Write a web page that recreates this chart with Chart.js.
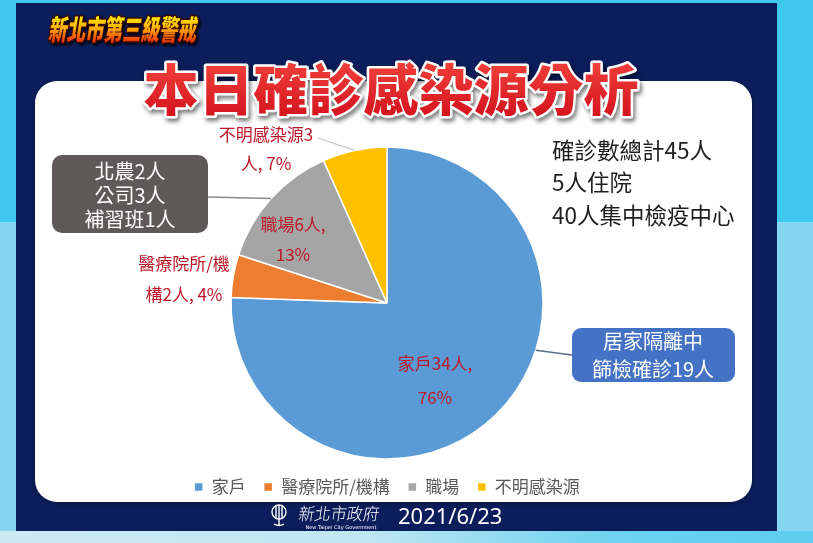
<!DOCTYPE html>
<html><head><meta charset="utf-8">
<script src="https://cdn.jsdelivr.net/npm/chart.js@4.4.1/dist/chart.umd.min.js"></script>
<style>
html,body{margin:0;padding:0;background:#3ec8ee;overflow:hidden;width:813px;height:543px}
#c{position:absolute;left:0;top:0}
</style>
</head><body>
<canvas id="c" width="813" height="543"></canvas>
<script>
// ---------- data ----------
const categories = ['家戶', '醫療院所/機構', '職場', '不明感染源'];
const cases = [34, 2, 6, 3];
const sliceColors = ['#5B9BD5', '#ED7D31', '#A5A5A5', '#FFC000'];
const chartTitle = '本日確診感染源分析';
const subTitle = '新北市第三級警戒';
const summaryLines = ['確診數總計45人', '5人住院', '40人集中檢疫中心'];
const workplaceNote = ['北農2人', '公司3人', '補習班1人'];
const homeNote = ['居家隔離中', '篩檢確診19人'];
const dateText = '2021/6/23';
const orgName = '新北市政府';
const orgNameEn = 'New Taipei City Government';

// ---------- layout / style ----------
const CJK = '"Noto Sans CJK TC","Noto Sans CJK SC","Noto Sans",sans-serif';
const labelBreak = [6, 6, 5, 6];                  // where Excel wrapped each data label
const labelPos = [[48, 78, 34], [-203, -24, 31], [-94, -63, 30], [-121, -154, 29]]; // dx,dy from centre, line gap

function rr(ctx, x, y, w, h, r) {
  ctx.beginPath();
  ctx.moveTo(x + r, y);
  ctx.arcTo(x + w, y, x + w, y + h, r);
  ctx.arcTo(x + w, y + h, x, y + h, r);
  ctx.arcTo(x, y + h, x, y, r);
  ctx.arcTo(x, y, x + w, y, r);
  ctx.closePath();
}

const backdrop = {
  id: 'backdrop',
  beforeDraw(chart) {
    const ctx = chart.ctx;
    ctx.save();
    // outer cyan
    ctx.fillStyle = '#3ec8ee';
    ctx.fillRect(0, 0, 813, 543);
    ctx.fillStyle = '#86d6f1';
    ctx.fillRect(0, 222, 16, 321);
    ctx.fillRect(777, 222, 36, 321);
    let g = ctx.createLinearGradient(0, 0, 813, 0);
    g.addColorStop(0, '#cdeaf4'); g.addColorStop(0.45, '#bfe6f3'); g.addColorStop(0.75, '#6fd2f0'); g.addColorStop(1, '#5ccdf0');
    ctx.fillStyle = g;
    ctx.fillRect(0, 531, 813, 12);
    // navy panel
    ctx.fillStyle = '#0b1e5b';
    ctx.fillRect(16, 3, 761, 528);
    // white card
    ctx.shadowColor = 'rgba(0,0,0,0.35)'; ctx.shadowBlur = 4; ctx.shadowOffsetY = 1;
    ctx.fillStyle = '#ffffff';
    rr(ctx, 35, 81, 717, 421, 22);
    ctx.fill();
    ctx.shadowColor = 'transparent';

    // subtitle (italic, condensed, gradient)
    ctx.save();
    ctx.translate(48, 40);
    ctx.transform(0.66, 0, -0.16, 1, 0, 0);
    ctx.font = '900 28px ' + CJK;
    ctx.textBaseline = 'alphabetic';
    ctx.lineJoin = 'round';
    ctx.shadowColor = 'rgba(0,0,0,0.8)'; ctx.shadowOffsetX = 2; ctx.shadowOffsetY = 2; ctx.shadowBlur = 2;
    ctx.strokeStyle = '#3a0a00'; ctx.lineWidth = 3;
    ctx.strokeText(subTitle, 0, 0);
    ctx.shadowColor = 'transparent';
    let sg = ctx.createLinearGradient(0, -26, 0, 2);
    sg.addColorStop(0, '#fff700'); sg.addColorStop(0.5, '#ffb000'); sg.addColorStop(1, '#e8300a');
    ctx.fillStyle = sg;
    ctx.fillText(subTitle, 0, 0);
    ctx.restore();

    // main title
    ctx.save();
    ctx.font = '900 55px ' + CJK;
    ctx.textAlign = 'center';
    ctx.textBaseline = 'middle';
    ctx.lineJoin = 'round';
    ctx.shadowColor = 'rgba(0,0,0,0.55)'; ctx.shadowOffsetX = 2; ctx.shadowOffsetY = 3; ctx.shadowBlur = 4;
    ctx.strokeStyle = '#ffffff'; ctx.lineWidth = 5;
    ctx.strokeText(chartTitle, 391, 89);
    ctx.shadowColor = 'transparent';
    let tg = ctx.createLinearGradient(0, 62, 0, 116);
    tg.addColorStop(0, '#f0403a'); tg.addColorStop(1, '#d4141e');
    ctx.fillStyle = tg;
    ctx.fillText(chartTitle, 391, 89);
    ctx.restore();

    // footer emblem + org + date
    ctx.save();
    ctx.strokeStyle = '#ffffff'; ctx.fillStyle = '#ffffff'; ctx.lineWidth = 1.4;
    ctx.beginPath(); ctx.arc(279, 512, 7, 0, Math.PI * 2); ctx.stroke();
    ctx.beginPath();
    ctx.moveTo(276, 506); ctx.lineTo(276, 518);
    ctx.moveTo(279, 505); ctx.lineTo(279, 519);
    ctx.moveTo(282, 506); ctx.lineTo(282, 518);
    ctx.moveTo(279, 519); ctx.lineTo(279, 526);
    ctx.moveTo(274, 524); ctx.quadraticCurveTo(279, 527, 284, 524);
    ctx.stroke();
    ctx.translate(298, 518);
    ctx.transform(0.95, 0, -0.15, 1, 0, 0);
    ctx.font = '300 17px ' + CJK;
    ctx.textBaseline = 'middle';
    ctx.fillText(orgName, 0, -4);
    ctx.restore();
    ctx.save();
    ctx.fillStyle = '#ffffff';
    ctx.font = '5px "DejaVu Sans",sans-serif';
    ctx.textAlign = 'center';
    ctx.fillText(orgNameEn, 341, 528);
    ctx.font = '22px "Noto Sans",sans-serif';
    ctx.textAlign = 'left';
    ctx.textBaseline = 'middle';
    ctx.fillText(dateText, 398, 518);
    ctx.restore();
    ctx.restore();
  }
};

const annotate = {
  id: 'annotate',
  afterDraw(chart) {
    const ctx = chart.ctx;
    const meta = chart.getDatasetMeta(0);
    const a0 = meta.data[0].getProps(['x', 'y', 'outerRadius'], true);
    const cx = a0.x, cy = a0.y, R = a0.outerRadius;
    const total = cases.reduce((s, v) => s + v, 0);
    const edge = (ang) => [cx + R * Math.cos(ang), cy + R * Math.sin(ang)];
    const midAng = (i) => { const p = meta.data[i].getProps(['startAngle', 'endAngle'], true); return (p.startAngle + p.endAngle) / 2; };

    ctx.save();
    // leader for unknown-source label
    ctx.strokeStyle = '#c8c8c8'; ctx.lineWidth = 1.2;
    let e = edge(midAng(3));
    ctx.beginPath(); ctx.moveTo(318, 138); ctx.lineTo(e[0], e[1]); ctx.stroke();

    // data labels
    ctx.fillStyle = '#bd1729';
    ctx.font = '17px ' + CJK;
    ctx.textAlign = 'center';
    ctx.textBaseline = 'middle';
    cases.forEach((v, i) => {
      const pct = Math.round(v / total * 100);
      const full = categories[i] + v + '人, ' + pct + '%';
      const l1 = full.slice(0, labelBreak[i]);
      const l2 = full.slice(labelBreak[i]).trim();
      const [dx, dy, gap] = labelPos[i];
      ctx.fillText(l1, cx + dx, cy + dy - gap / 2);
      ctx.fillText(l2, cx + dx, cy + dy + gap / 2);
    });

    // workplace callout
    e = edge(midAng(2));
    ctx.strokeStyle = '#8a8a8a'; ctx.lineWidth = 1.5;
    ctx.beginPath(); ctx.moveTo(208, 197); ctx.lineTo(e[0], e[1]); ctx.stroke();
    ctx.fillStyle = '#5f5959';
    rr(ctx, 52, 155, 156, 78, 10); ctx.fill();
    ctx.fillStyle = '#ffffff';
    ctx.font = '20px ' + CJK;
    workplaceNote.forEach((t, k) => ctx.fillText(t, 130, 171 + k * 24));

    // home quarantine callout
    e = edge(17.6 * Math.PI / 180);
    ctx.strokeStyle = '#5a6c8c'; ctx.lineWidth = 1.5;
    ctx.beginPath(); ctx.moveTo(e[0], e[1]); ctx.lineTo(572, 355); ctx.stroke();
    ctx.fillStyle = '#4472c4';
    rr(ctx, 572, 328, 163, 54, 9); ctx.fill();
    ctx.fillStyle = '#ffffff';
    homeNote.forEach((t, k) => ctx.fillText(t, 653, 341 + k * 28));

    // summary text
    ctx.fillStyle = '#1e1e1e';
    ctx.font = '22.5px ' + CJK;
    ctx.textAlign = 'left';
    summaryLines.forEach((t, k) => ctx.fillText(t, 552, 150 + k * 32.5));
    ctx.restore();
  }
};

new Chart(document.getElementById('c'), {
  type: 'pie',
  data: {
    labels: categories,
    datasets: [{
      data: cases,
      backgroundColor: sliceColors,
      borderColor: '#ffffff',
      borderWidth: 1.5,
      radius: 156
    }]
  },
  options: {
    responsive: false,
    animation: false,
    devicePixelRatio: 1,
    layout: { padding: { left: 0, right: 39, top: 145.5, bottom: 37.5 } },
    plugins: {
      tooltip: { enabled: false },
      legend: {
        position: 'bottom',
        labels: {
          boxWidth: 9, boxHeight: 9, padding: 18,
          color: '#595959',
          font: { size: 17, family: CJK }
        }
      }
    }
  },
  plugins: [backdrop, annotate]
});
</script>
</body></html>
